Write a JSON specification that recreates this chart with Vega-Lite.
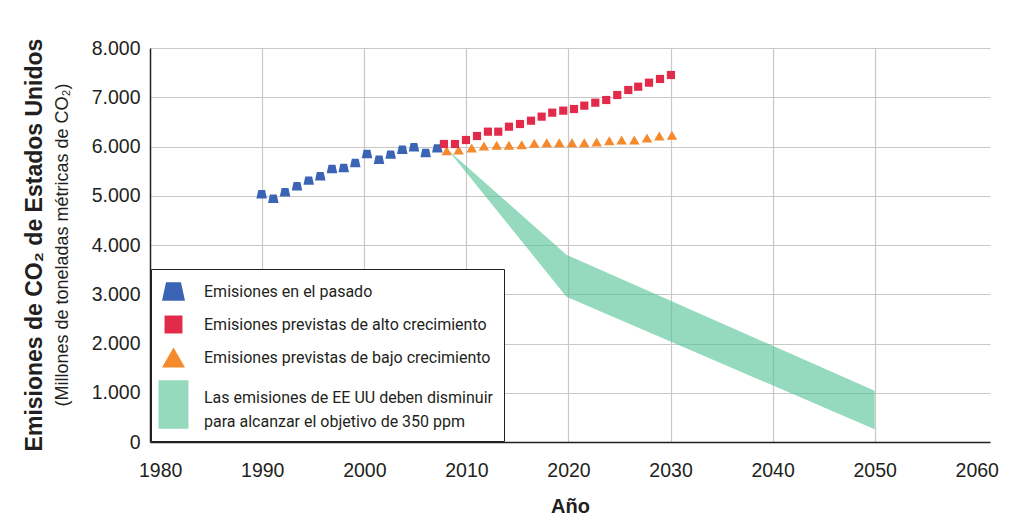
{
  "$schema": "https://vega.github.io/schema/vega-lite/v6.json",
  "width": 840,
  "height": 394,
  "autosize": {"type": "none"},
  "padding": {"left": 150, "top": 48, "right": 22, "bottom": 81},
  "background": "white",
  "title": {
    "text": "Emisiones de CO₂ de Estados Unidos",
    "subtitle": "(Millones de toneladas métricas de CO₂)",
    "orient": "left",
    "anchor": "middle",
    "font": "Liberation Sans",
    "fontSize": 23,
    "fontWeight": "bold",
    "color": "#231f20",
    "subtitleFont": "Liberation Sans",
    "subtitleFontSize": 18,
    "subtitleColor": "#231f20",
    "subtitlePadding": 7,
    "offset": 19
  },
  "config": {
    "view": {"stroke": null},
    "style": {"guide-label": {"lineHeight": 24}},
    "axis": {
      "labelFont": "Liberation Sans",
      "labelFontSize": 19.5,
      "labelColor": "#231f20",
      "domainColor": "#231f20",
      "domainWidth": 1.5,
      "ticks": false,
      "gridColor": "#c8c8c8",
      "gridWidth": 1.2
    }
  },
  "layer": [
    {
      "data": {"values": [
        {"anio": 2008.2, "bajo": 5930, "alto": 5930},
        {"anio": 2019.8, "bajo": 2950, "alto": 3800},
        {"anio": 2050.0, "bajo": 258, "alto": 1042}
      ]},
      "mark": {"type": "area", "color": "#4fc193", "opacity": 0.6},
      "encoding": {
        "x": {
          "field": "anio", "type": "quantitative",
          "scale": {"domain": [1979, 2061.3], "nice": false, "zero": false},
          "axis": {
            "values": [1980, 1990, 2000, 2010, 2020, 2030, 2040, 2050, 2060],
            "format": "d",
            "labelPadding": 19,
            "title": "Año",
            "titleFont": "Liberation Sans",
            "titleFontSize": 20,
            "titleFontWeight": "bold",
            "titleColor": "#231f20",
            "titlePadding": 17,
            "gridOpacity": {"condition": {"test": "datum.value == 1980 || datum.value == 2060", "value": 0}, "value": 1}
          }
        },
        "y": {
          "field": "bajo", "type": "quantitative",
          "scale": {"domain": [0, 8000], "nice": false},
          "axis": {
            "values": [0, 1000, 2000, 3000, 4000, 5000, 6000, 7000, 8000],
            "labelExpr": "replace(format(datum.value, ','), ',', '.')",
            "labelPadding": 10,
            "title": null
          }
        },
        "y2": {"field": "alto"}
      }
    },
    {
      "data": {"values": [
        {"serie": "pasado", "anio": 1989.94, "valor": 5030},
        {"serie": "pasado", "anio": 1991.08, "valor": 4940},
        {"serie": "pasado", "anio": 1992.23, "valor": 5070},
        {"serie": "pasado", "anio": 1993.40, "valor": 5192},
        {"serie": "pasado", "anio": 1994.55, "valor": 5306},
        {"serie": "pasado", "anio": 1995.68, "valor": 5395},
        {"serie": "pasado", "anio": 1996.83, "valor": 5543},
        {"serie": "pasado", "anio": 1997.98, "valor": 5563},
        {"serie": "pasado", "anio": 1999.11, "valor": 5665},
        {"serie": "pasado", "anio": 2000.26, "valor": 5848},
        {"serie": "pasado", "anio": 2001.44, "valor": 5732},
        {"serie": "pasado", "anio": 2002.58, "valor": 5834},
        {"serie": "pasado", "anio": 2003.72, "valor": 5935},
        {"serie": "pasado", "anio": 2004.86, "valor": 5984},
        {"serie": "pasado", "anio": 2006.01, "valor": 5868},
        {"serie": "pasado", "anio": 2007.15, "valor": 5963},
        {"serie": "bajo", "anio": 2008.07, "valor": 5915},
        {"serie": "bajo", "anio": 2009.24, "valor": 5929},
        {"serie": "bajo", "anio": 2010.52, "valor": 5970},
        {"serie": "bajo", "anio": 2011.72, "valor": 6010},
        {"serie": "bajo", "anio": 2012.97, "valor": 6024},
        {"serie": "bajo", "anio": 2014.17, "valor": 6024},
        {"serie": "bajo", "anio": 2015.42, "valor": 6037},
        {"serie": "bajo", "anio": 2016.65, "valor": 6065},
        {"serie": "bajo", "anio": 2017.87, "valor": 6078},
        {"serie": "bajo", "anio": 2019.10, "valor": 6078},
        {"serie": "bajo", "anio": 2020.34, "valor": 6078},
        {"serie": "bajo", "anio": 2021.55, "valor": 6078},
        {"serie": "bajo", "anio": 2022.76, "valor": 6091},
        {"serie": "bajo", "anio": 2024.00, "valor": 6118},
        {"serie": "bajo", "anio": 2025.21, "valor": 6132},
        {"serie": "bajo", "anio": 2026.45, "valor": 6132},
        {"serie": "bajo", "anio": 2027.69, "valor": 6173},
        {"serie": "bajo", "anio": 2028.90, "valor": 6213},
        {"serie": "bajo", "anio": 2030.14, "valor": 6227},
        {"serie": "alto", "anio": 2007.80, "valor": 6051},
        {"serie": "alto", "anio": 2008.88, "valor": 6051},
        {"serie": "alto", "anio": 2009.96, "valor": 6132},
        {"serie": "alto", "anio": 2011.04, "valor": 6213},
        {"serie": "alto", "anio": 2012.11, "valor": 6301},
        {"serie": "alto", "anio": 2013.12, "valor": 6301},
        {"serie": "alto", "anio": 2014.17, "valor": 6402},
        {"serie": "alto", "anio": 2015.25, "valor": 6457},
        {"serie": "alto", "anio": 2016.33, "valor": 6524},
        {"serie": "alto", "anio": 2017.37, "valor": 6606},
        {"serie": "alto", "anio": 2018.41, "valor": 6687},
        {"serie": "alto", "anio": 2019.49, "valor": 6728},
        {"serie": "alto", "anio": 2020.54, "valor": 6761},
        {"serie": "alto", "anio": 2021.55, "valor": 6829},
        {"serie": "alto", "anio": 2022.63, "valor": 6890},
        {"serie": "alto", "anio": 2023.70, "valor": 6944},
        {"serie": "alto", "anio": 2024.78, "valor": 7046},
        {"serie": "alto", "anio": 2025.86, "valor": 7147},
        {"serie": "alto", "anio": 2026.83, "valor": 7214},
        {"serie": "alto", "anio": 2027.89, "valor": 7296},
        {"serie": "alto", "anio": 2028.97, "valor": 7371},
        {"serie": "alto", "anio": 2030.04, "valor": 7452}
      ]},
      "mark": {"type": "point", "filled": true, "opacity": 1, "size": 110, "strokeWidth": 0},
      "encoding": {
        "x": {"field": "anio", "type": "quantitative"},
        "y": {"field": "valor", "type": "quantitative"},
        "color": {
          "field": "serie", "type": "nominal",
          "scale": {
            "domain": ["pasado", "alto", "bajo", "meta"],
            "range": ["#3b64b4", "#e22a4a", "#f5892b", "#95dabc"]
          },
          "legend": {
            "title": null,
            "orient": "bottom-left",
            "offset": 1,
            "padding": 11,
            "strokeColor": "#231f20",
            "fillColor": "white",
            "symbolSize": 529,
            "symbolStrokeWidth": 0,
            "symbolOpacity": 1,
            "labelFont": "Roboto",
            "labelFontSize": 16,
            "labelColor": "#231f20",
            "labelOffset": 19,
            "labelLimit": 0,
            "rowPadding": 12,
            "labelExpr": "datum.value == 'pasado' ? 'Emisiones en el pasado' : datum.value == 'alto' ? 'Emisiones previstas de alto crecimiento' : datum.value == 'bajo' ? 'Emisiones previstas de bajo crecimiento' : ['Las emisiones de EE UU deben disminuir', 'para alcanzar el objetivo de 350 ppm']"
          }
        },
        "shape": {
          "field": "serie", "type": "nominal",
          "scale": {
            "domain": ["pasado", "alto", "bajo", "meta"],
            "range": [
              "M-0.65,-0.8L0.65,-0.8L1,0.8L-1,0.8Z",
              "M-0.78,-0.78L0.78,-0.78L0.78,0.78L-0.78,0.78Z",
              "M0,-0.86L1,0.86L-1,0.86Z",
              "M-1.3,-1.49L1.3,-1.49L1.3,2.71L-1.3,2.71Z"
            ]
          },
          "legend": null
        }
      }
    }
  ]
}
